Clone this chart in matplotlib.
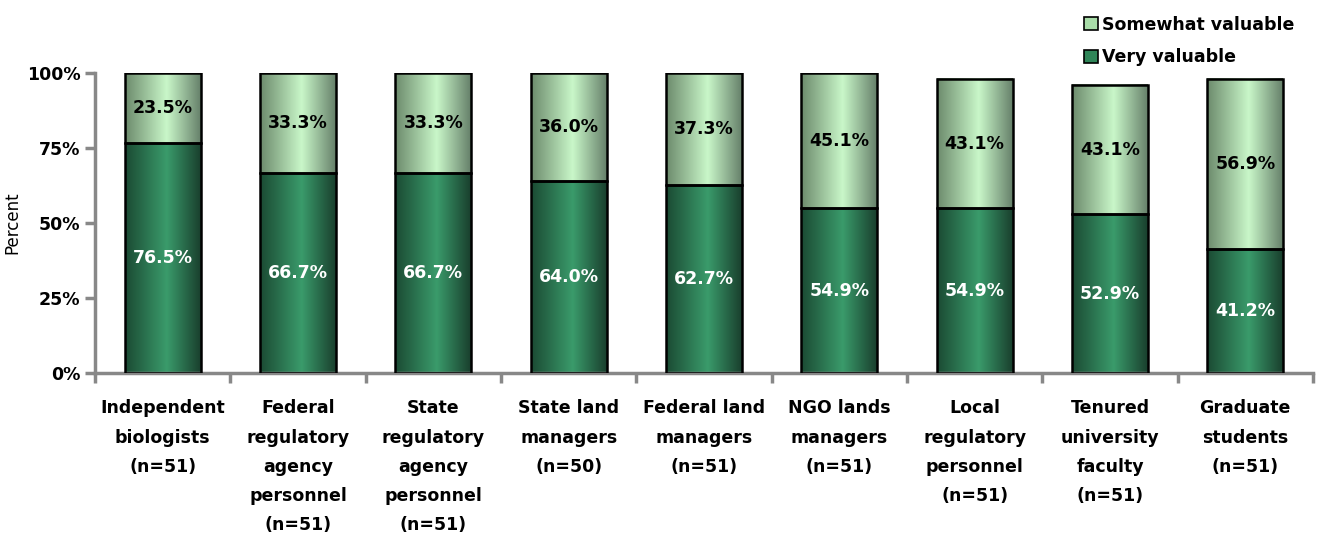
import numpy as np
from matplotlib import pyplot as plt
from matplotlib.colors import LinearSegmentedColormap
from matplotlib.patches import Patch

# DATA
categories = ['Independent\nbiologists\n(n=51)',
              'Federal\nregulatory\nagency\npersonnel\n(n=51)',
              'State\nregulatory\nagency\npersonnel\n(n=51)',
              'State land\nmanagers\n(n=50)',
              'Federal land\nmanagers\n(n=51)',
              'NGO lands\nmanagers\n(n=51)',
              'Local\nregulatory\npersonnel\n(n=51)',
              'Tenured\nuniversity\nfaculty\n(n=51)',
              'Graduate\nstudents\n(n=51)']
very_valuable = [76.5, 66.7, 66.7, 64.0, 62.7, 54.9, 54.9, 52.9, 41.2]
somewhat_valuable = [23.5, 33.3, 33.3, 36.0, 37.3, 45.1, 43.1, 43.1, 56.9]
yticks = [0, 25, 50, 75, 100]

# gradient colour maps (dark edges, light centre)
dark_cmap = LinearSegmentedColormap.from_list(
    'dark', [(0, '#1b4a33'), (0.55, '#3a9b6b'), (1, '#193f2d')])
light_cmap = LinearSegmentedColormap.from_list(
    'light', [(0, '#6c8a6c'), (0.55, '#c9f7c9'), (1, '#66806a')])
grad = np.linspace(0, 1, 256).reshape(1, -1)

fig = plt.figure(figsize=(13.21, 5.36), dpi=100)
ax = fig.add_axes([0.0719, 0.304, 0.922, 0.56])

width = 0.56
x = np.arange(len(categories))
for i in range(len(categories)):
    v = very_valuable[i]
    s = somewhat_valuable[i]
    x0 = x[i] - width / 2
    x1 = x[i] + width / 2
    ax.imshow(grad, cmap=dark_cmap, extent=[x0, x1, 0, v],
              aspect='auto', zorder=2)
    ax.imshow(grad, cmap=light_cmap, extent=[x0, x1, v, v + s],
              aspect='auto', zorder=2)

ax.bar(x, very_valuable, width, fill=False, edgecolor='black',
       linewidth=1.8, zorder=3)
ax.bar(x, somewhat_valuable, width, bottom=very_valuable, fill=False,
       edgecolor='black', linewidth=1.8, zorder=3)

for i in range(len(categories)):
    v = very_valuable[i]
    s = somewhat_valuable[i]
    ax.text(x[i], v / 2, '%.1f%%' % v, ha='center', va='center',
            color='white', fontsize=12.5, fontweight='bold', zorder=4)
    ax.text(x[i], v + s / 2, '%.1f%%' % s, ha='center', va='center',
            color='black', fontsize=12.5, fontweight='bold', zorder=4)

ax.set_xlim(-0.5, len(categories) - 0.5)
ax.set_ylim(0, 100)

ax.set_yticks(yticks)
ax.set_yticklabels(['%d%%' % t for t in yticks], fontsize=12.5,
                   fontweight='bold')
ax.set_ylabel('Percent', fontsize=12, labelpad=4)

ax.set_xticks(np.arange(len(categories) + 1) - 0.5)
ax.set_xticklabels([])
ax.set_xticks(x, minor=True)
ax.set_xticklabels(categories, minor=True, fontsize=12.5, fontweight='bold',
                   linespacing=1.8, va='top')
ax.tick_params(axis='x', which='minor', length=0, pad=19)
ax.tick_params(axis='both', which='major', color='#888888', width=2.5,
               length=7)

for side in ['top', 'right']:
    ax.spines[side].set_visible(False)
for side in ['left', 'bottom']:
    ax.spines[side].set_color('#888888')
    ax.spines[side].set_linewidth(2.5)

handles = [Patch(facecolor='#a8dca8', edgecolor='black', linewidth=1.2),
           Patch(facecolor='#2f8558', edgecolor='black', linewidth=1.2)]
fig.legend(handles, ['Somewhat valuable', 'Very valuable'],
           loc='upper left', bbox_to_anchor=(0.809, 1.0), frameon=False,
           prop={'size': 12.5, 'weight': 'bold'}, handlelength=0.8,
           handleheight=0.8, handletextpad=0.2, labelspacing=0.85)

fig.savefig('out.png', dpi=100)
